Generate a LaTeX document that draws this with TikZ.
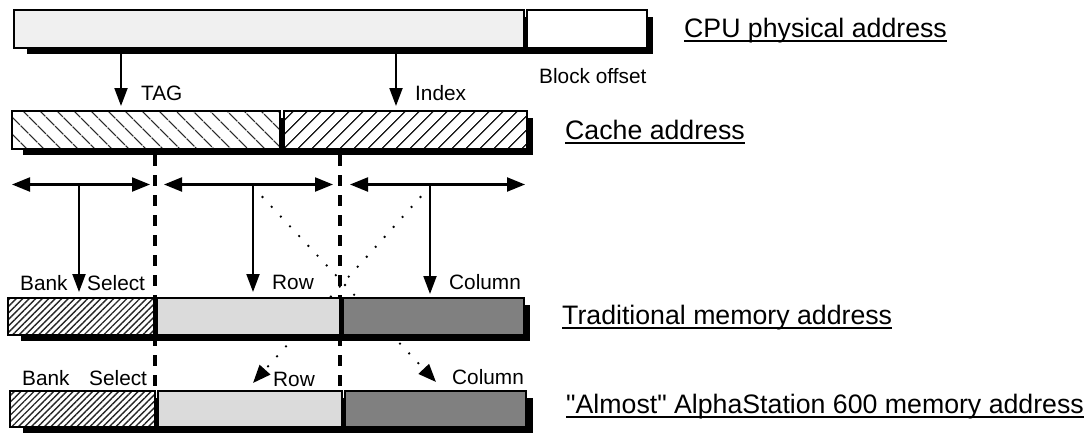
\documentclass[tikz,border=0pt]{standalone}
\usepackage{fontspec}
\setmainfont{Liberation Sans}[Ligatures=TeXOff]
\usetikzlibrary{arrows.meta,patterns.meta}

\tikzset{
  seg/.style={draw=black, line width=2pt, inner sep=0pt, outer sep=0pt, anchor=north west},
  barshadow/.style={fill=black},
  ptr/.style={line width=2pt, -{Triangle[length=18pt,width=13pt]}},
  span/.style={line width=2.2pt, {Triangle[length=18pt,width=14pt]}-{Triangle[length=18pt,width=14pt]}},
  guide/.style={line width=4pt, dash pattern=on 11pt off 9pt},
  route/.style={line width=2.6pt, line cap=round, dash pattern=on 0pt off 13.4pt,
                -{Triangle[length=18pt,width=14pt]}},
  title/.style={font=\fontsize{26.7}{30}\selectfont, anchor=base west, inner sep=0pt},
  lbl/.style={font=\fontsize{20.8}{24}\selectfont, anchor=base west, inner sep=0pt},
  uline/.style={line width=1.5pt},
  plainfill/.style={fill=black!6},
  rowfill/.style={fill=black!14},
  colfill/.style={fill=black!50},
  hatched/.style={preaction={fill=white}, pattern color=black!85},
  tagfill/.style={hatched, pattern={Lines[angle=-45,distance=13pt,line width=1.4pt]}},
  idxfill/.style={hatched, pattern={Lines[angle=45,distance=10.5pt,line width=1.4pt]}},
  bankfill/.style={hatched, pattern={Lines[angle=45,distance=4.6pt,line width=1.4pt]}},
}

% one field of an address bar: name, x1, y1, x2, y2, style
\newcommand\segbox[6]{%
  \node[seg,#6,minimum width={#4pt-#2pt},minimum height={#5pt-#3pt}] (#1) at (#2,#3) {};}

\begin{document}
\begin{tikzpicture}[x=1pt,y=-1pt]
\useasboundingbox (0,0) rectangle (1089,432);
\fill[white] (0,0) rectangle (1089,432);

% CPU physical address
\fill[barshadow] (27,17) rectangle (653,54);
\segbox{cpuhi}{14}{10}{524}{48}{plainfill}
\segbox{cpuoff}{527}{10}{647}{48}{fill=white}

% cache address
\fill[barshadow] (23,118) rectangle (533,155);
\segbox{ctag}{12}{111}{280}{149}{tagfill}
\segbox{cidx}{284}{111}{527}{149}{idxfill}

% TAG and Index fields taken from the CPU address
\coordinate (tagx) at (121,0);
\coordinate (idxx) at (396,0);
\draw[ptr] ([yshift=-6pt]cpuhi.south -| tagx) -- ([yshift=5pt]ctag.north -| tagx);
\draw[ptr] ([yshift=-6pt]cpuhi.south -| idxx) -- ([yshift=5pt]cidx.north -| idxx);

\node[lbl] (tag) at (141,100) {TAG};
\node[lbl] (index) at (415,100) {Index};
\node[lbl] (boff) at (539,83) {Block offset};

% field boundaries carried down from the cache address
\coordinate (g1a) at (155,155);
\coordinate (g1b) at (155,392);
\coordinate (g2a) at (340,155);
\coordinate (g2b) at (340,392);
\draw[guide] (g1a) -- (g1b);
\draw[guide] (g2a) -- (g2b);

% bit ranges
\coordinate (s1l) at (12,184.5);  \coordinate (s1r) at (150,184.5);
\coordinate (s2l) at (164,184.5); \coordinate (s2r) at (333,184.5);
\coordinate (s3l) at (350,184.5); \coordinate (s3r) at (525,184.5);
\draw[span] (s1l) -- (s1r);
\draw[span] (s2l) -- (s2r);
\draw[span] (s3l) -- (s3r);

\coordinate (j1) at (79,184.5);
\coordinate (j2) at (253,184.5);
\coordinate (j3) at (430,184.5);
\coordinate (bankin) at (79,292);
\coordinate (rowin) at (253,292);
\coordinate (colin) at (430,294);
\draw[ptr] (j1) -- (bankin);
\draw[ptr] (j2) -- (rowin);
\draw[ptr] (j3) -- (colin);

% crossed mapping used by the second layout
\coordinate (colout) at (436,382);
\coordinate (rowout) at (253,383);
\draw[route] ([shift={(9.5pt,-12.5pt)}]j2) -- (colout);
\draw[route] ([shift={(-9.5pt,-12.5pt)}]j3) -- (rowout);

% traditional memory address
\fill[barshadow] (21,305) rectangle (530,341);
\segbox{tbank}{8}{298}{154}{335}{bankfill}
\segbox{trow}{157}{298}{340}{335}{rowfill}
\segbox{tcol}{343}{298}{524}{335}{colfill}

\node[lbl] (tbanklbl) at (20,290) {Bank};
\node[lbl] (tsellbl) at (87,290) {Select};
\node[lbl] (trowlbl) at (272,289) {Row};
\node[lbl] (tcollbl) at (449,289) {Column};

% "Almost" AlphaStation 600 memory address
\fill[barshadow] (23,398) rectangle (533,436);
\segbox{abank}{10}{391}{155}{427}{bankfill}
\segbox{arow}{158}{391}{342}{427}{rowfill}
\segbox{acol}{345}{391}{526}{427}{colfill}

\node[lbl] (abanklbl) at (22,385) {Bank};
\node[lbl] (asellbl) at (89,385) {Select};
\node[lbl] (arowlbl) at (273,386) {Row};
\node[lbl] (acollbl) at (452,384) {Column};

% captions
\node[title] (tcpu) at (684,37) {CPU physical address};
\node[title] (tcache) at (565,139) {Cache address};
\node[title] (ttrad) at (562,324) {Traditional memory address};
\node[title] (talpha) at (566,413) {"Almost" AlphaStation 600 memory address};
\foreach \t in {tcpu,tcache,ttrad,talpha}
  \draw[uline] ([yshift=-4pt]\t.base west) -- ([yshift=-4pt]\t.base east);
\end{tikzpicture}
\end{document}
